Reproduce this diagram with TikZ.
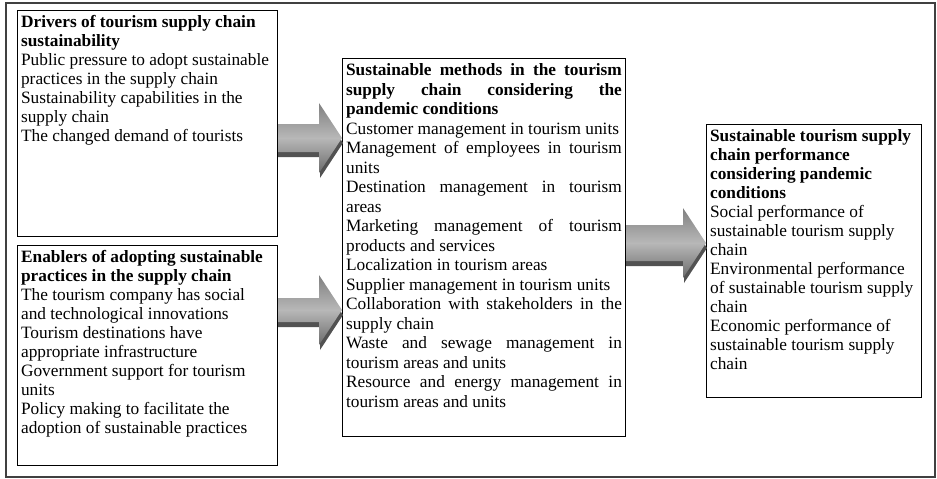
\documentclass[tikz,border=0pt]{standalone}
\usepackage{fontspec}
\setmainfont{Liberation Serif}
\usetikzlibrary{calc,positioning}

\begin{document}
\begin{tikzpicture}[x=1pt,y=-1pt,
    every node/.style={font=\fontsize{17.3}{19}\selectfont},
    panel/.style={draw,line width=1.2pt,anchor=north west,inner xsep=3.5pt,inner ysep=5pt},
    arrowshadow/.style={fill=black!68},
    arrowface/.style={top color=black!50,bottom color=black!58,middle color=black!28}]

    \useasboundingbox (0,0) rectangle (937,479);
    % outer frame
    \draw[black!75,line width=1.1pt] (6,3) rectangle (935,477);

    % left column: drivers and enablers
    \node[panel] (drivers) at (17,10) {\parbox[t][215.8pt][t]{252.8pt}{\raggedright
        \textbf{Drivers of tourism supply chain\\ sustainability}\\
        Public pressure to adopt sustainable\\
        practices in the supply chain\\
        Sustainability capabilities in the\\
        supply chain\\
        The changed demand of tourists}};

    \node[panel,below right=8pt and 0pt of drivers.south west] (enablers) {\parbox[t][209.8pt][t]{252.8pt}{\raggedright
        \textbf{Enablers of adopting sustainable\\ practices in the supply chain}\\
        The tourism company has social\\
        and technological innovations\\
        Tourism destinations have\\
        appropriate infrastructure\\
        Government support for tourism\\
        units\\
        Policy making to facilitate the\\
        adoption of sustainable practices}};

    % middle column, justified text
    \node[panel] (methods) at (342,58) {\parbox[t][367.8pt][t]{275.8pt}{%
        \fontsize{17.3}{19.5}\selectfont\sloppy\hyphenpenalty=10000
        \textbf{Sustainable methods in the tourism\linebreak supply chain considering the\linebreak pandemic conditions}\\
        Customer management in tourism units\\
        Management of employees in tourism\linebreak units\\
        Destination management in tourism\linebreak areas\\
        Marketing management of tourism\linebreak products and services\\
        Localization in tourism areas\\
        Supplier management in tourism units\\
        Collaboration with stakeholders in the\linebreak supply chain\\
        Waste and sewage management in\linebreak tourism areas and units\\
        Resource and energy management in\linebreak tourism areas and units}};

    % right column
    \node[panel] (performance) at (706,124) {\parbox[t][262.8pt][t]{207.8pt}{\raggedright
        \textbf{Sustainable tourism supply\\ chain performance\\ considering pandemic\\ conditions}\\
        Social performance of\\
        sustainable tourism supply\\
        chain\\
        Environmental performance\\
        of sustainable tourism supply\\
        chain\\
        Economic performance of\\
        sustainable tourism supply\\
        chain}};

    % ends of the block arrows
    \coordinate (tail1) at (drivers.east |- 0,138);
    \coordinate (tip1) at (methods.west |- 0,138);
    \coordinate (tail2) at (enablers.east |- 0,310);
    \coordinate (tip2) at (methods.west |- 0,310);
    \coordinate (tail3) at (methods.east |- 0,243);
    \coordinate (tip3) at (performance.west |- 0,243);

    % block arrows: dark copy 4pt lower, shaded face on top
    \foreach \i/\half in {1/14pt,2/12pt,3/18pt}{
        \fill[arrowshadow] let \p1=(tail\i), \p2=(tip\i) in
            (\x1,\y2+\half-5pt) -- (\x2-22pt,\y2+\half-5pt) -- (\x2-22pt,\y2+30pt) -- (\x2+1pt,\y2-5pt)
            -- (\x2-22pt,\y2-40pt) -- (\x2-22pt,\y2-\half-5pt) -- (\x1,\y2-\half-5pt) -- cycle;
        \shade[arrowface] let \p1=(tail\i), \p2=(tip\i) in
            (\x1,\y2+\half) -- (\x2-23pt,\y2+\half) -- (\x2-23pt,\y2+35pt) -- (\x2,\y2)
            -- (\x2-23pt,\y2-35pt) -- (\x2-23pt,\y2-\half) -- (\x1,\y2-\half) -- cycle;
    }
\end{tikzpicture}
\end{document}
